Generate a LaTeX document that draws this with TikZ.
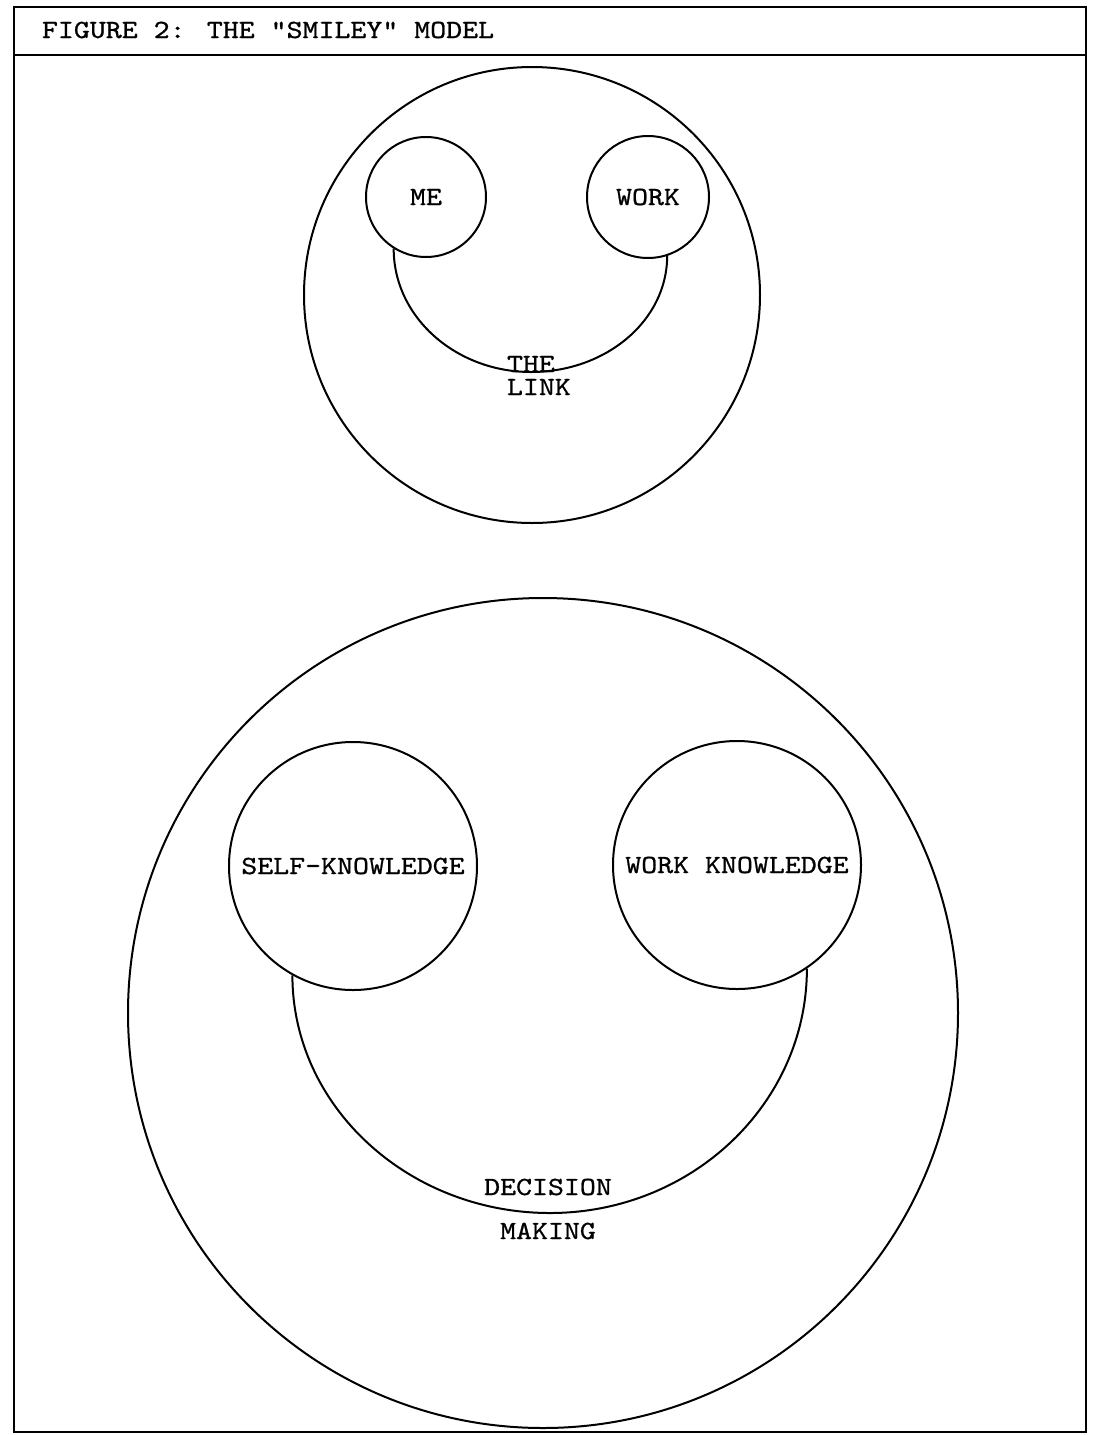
\documentclass[tikz,border=0pt]{standalone}
\usepackage{fontspec}
\newfontfamily\twfont{lmmono10-regular}[Extension=.otf, FakeStretch=1.16, FakeBold=0.9]
\begin{document}
\begin{tikzpicture}[x=0.5pt,y=-0.5pt,line width=1pt,
  twf/.style={font=\twfont\fontsize{13.1}{11.5}\selectfont},
  lbl/.style={twf, inner sep=0pt},
  facec/.style={draw, circle, inner sep=0pt},
  eyec/.style={draw, circle, inner sep=0pt, twf},
  framel/.style={line width=1.2pt}]
\useasboundingbox (0,0) rectangle (1093,1435);
% frame
\draw[framel] (14,7) rectangle (1086,1432);
\coordinate (tl) at (14,55);
\coordinate (tr) at (1086,55);
\draw[framel] (tl) -- (tr);
\node[lbl, anchor=base west] (title) at (41,38) {FIGURE 2: THE "SMILEY" MODEL};
% top smiley
\node[facec, minimum size=228pt] (face1) at (532,295) {};
\node[eyec, minimum size=60pt] (me) at (426,197) {ME};
\node[eyec, minimum size=61pt] (work) at (648,197) {WORK};
\coordinate (mt) at (531,372);
\draw (me.238.7) .. controls +(0,68.5) and +(-75.1,0) .. (mt)
      .. controls +(75.1,0) and +(0,64.6) .. (work.288);
\node[lbl, align=left, anchor=base west] (thelink) at (506,395) {THE\\LINK};
% bottom smiley
\node[facec, minimum size=415pt] (face2) at (543,1013) {};
\node[eyec, minimum size=124pt] (self) at (353,866) {SELF-KNOWLEDGE};
\node[eyec, minimum size=124pt] (wk) at (737,865) {WORK KNOWLEDGE};
\coordinate (mb) at (550,1213);
\draw (self.241.6) .. controls +(0,131.4) and +(-141.4,0) .. (mb)
      .. controls +(141.4,0) and +(0,135.3) .. (wk.304);
\node[lbl, anchor=base] (dec) at (548,1195) {DECISION};
\node[lbl, anchor=base] (mak) at (548,1239) {MAKING};
\end{tikzpicture}
\end{document}
